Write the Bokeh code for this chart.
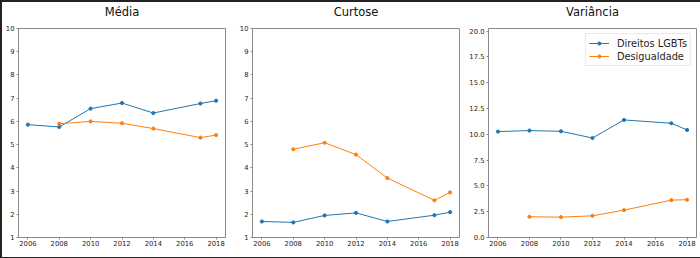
from bokeh.plotting import figure
from bokeh.layouts import row
from bokeh.models import Range1d, FixedTicker, PrintfTickFormatter, Title
from bokeh.embed import file_html
from bokeh.resources import INLINE

# Data
anos_lgbt = [2006, 2008, 2010, 2012, 2014, 2017, 2018]
anos_desig = [2008, 2010, 2012, 2014, 2017, 2018]

media_lgbt = [5.86, 5.76, 6.55, 6.79, 6.36, 6.77, 6.89]
media_desig = [5.90, 6.00, 5.92, 5.69, 5.30, 5.41]

curtose_lgbt = [1.69, 1.65, 1.95, 2.06, 1.69, 1.96, 2.09]
curtose_desig = [4.80, 5.08, 4.57, 3.56, 2.60, 2.94]

variancia_lgbt = [10.26, 10.36, 10.29, 9.64, 11.39, 11.07, 10.42]
variancia_desig = [2.01, 1.97, 2.10, 2.65, 3.62, 3.66]

titulos = ["Média", "Curtose", "Variância"]
rotulos = ["Direitos LGBTs", "Desigualdade"]
x_ticks = [2006, 2008, 2010, 2012, 2014, 2016, 2018]
y_ticks_1 = [1, 2, 3, 4, 5, 6, 7, 8, 9, 10]
y_ticks_3 = [0, 2.5, 5, 7.5, 10, 12.5, 15, 17.5, 20]

AZUL = "#1f77b4"
LARANJA = "#ff7f0e"
FONT = "DejaVu Sans"
SPINE = "#8a8a8a"
TXT = "#1e1e1e"
FH = 209


def make_panel(title, y_lgbt, y_desig, yr, yticks, fmt, left, right, fw, legend=False):
    p = figure(output_backend="svg", toolbar_location=None, title=None,
               frame_width=fw, frame_height=FH,
               min_border_left=left, min_border_right=right,
               min_border_top=25, min_border_bottom=20,
               x_range=Range1d(2005.4, 2018.6), y_range=Range1d(*yr),
               background_fill_color="white", border_fill_color="white")
    p.outline_line_color = SPINE
    p.outline_line_width = 1
    p.xgrid.visible = False
    p.ygrid.visible = False
    for ax in (p.xaxis[0], p.yaxis[0]):
        ax.axis_line_color = SPINE
        ax.major_tick_line_color = SPINE
        ax.major_tick_out = 2
        ax.major_tick_in = 0
        ax.minor_tick_line_color = None
        ax.major_label_text_font = FONT
        ax.major_label_text_font_size = "6.8px"
        ax.major_label_text_color = TXT
        ax.major_label_standoff = 2
    p.xaxis[0].ticker = FixedTicker(ticks=x_ticks)
    p.yaxis[0].ticker = FixedTicker(ticks=yticks)
    p.xaxis[0].major_label_standoff = 1
    if fmt:
        p.yaxis[0].formatter = PrintfTickFormatter(format=fmt)

    # spacer (nearest the frame) and the real title above it
    p.add_layout(Title(text=" ", text_font_size="1px", standoff=7), "above")
    p.add_layout(Title(text=title, align="center", text_font=FONT,
                       text_font_size="11.5px", text_font_style="normal",
                       text_color="#111111", text_line_height=0.85, standoff=0), "above")

    kw1 = dict(legend_label=rotulos[0]) if legend else {}
    kw2 = dict(legend_label=rotulos[1]) if legend else {}
    p.line(anos_lgbt, y_lgbt, line_color=AZUL, line_width=1, **kw1)
    p.scatter(anos_lgbt, y_lgbt, size=3.2, fill_color=AZUL, line_color=AZUL, **kw1)
    p.line(anos_desig, y_desig, line_color=LARANJA, line_width=1, **kw2)
    p.scatter(anos_desig, y_desig, size=3.2, fill_color=LARANJA, line_color=LARANJA, **kw2)

    if legend:
        lg = p.legend[0]
        lg.location = "top_right"
        lg.margin = 5
        lg.padding = 3
        lg.spacing = 1
        lg.glyph_width = 20
        lg.glyph_height = 8
        lg.label_height = 12
        lg.label_standoff = 8
        lg.label_text_font = FONT
        lg.label_text_font_size = "9.8px"
        lg.label_text_color = TXT
        lg.border_line_color = "#d2d2d2"
        lg.border_line_width = 1
        lg.background_fill_color = "white"
        lg.background_fill_alpha = 0.8
    return p


p1 = make_panel(titulos[0], media_lgbt, media_desig, (1, 10), y_ticks_1, None, 15, 10, 207)
p2 = make_panel(titulos[1], curtose_lgbt, curtose_desig, (1, 10), y_ticks_1, None, 17, 7, 207)
p3 = make_panel(titulos[2], variancia_lgbt, variancia_desig, (0, 20.25), y_ticks_3, "%.1f", 20, 5, 208, legend=True)

layout = row(p1, p2, p3, spacing=0,
             styles={"border": "2px solid #222222", "background-color": "white"})

open("out.html", "w").write(file_html(layout, INLINE))
